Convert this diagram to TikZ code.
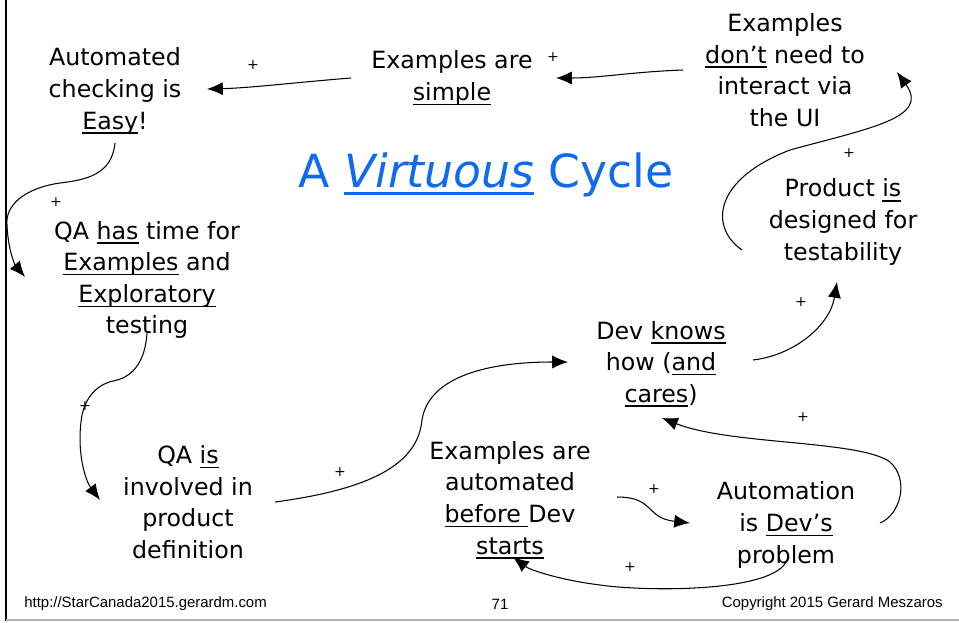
\documentclass[tikz,border=0pt]{standalone}
\usepackage{fontspec}
\setmainfont{DejaVu Sans}
\newfontfamily\footfont{Liberation Sans}
\usetikzlibrary{arrows.meta}
\definecolor{titleblue}{RGB}{16,106,240}
\newcommand{\undl}[2][0.9pt]{\setbox0=\hbox{#2}\rlap{\rule[-3\dimexpr#1\relax]{\wd0}{#1}}\box0\relax}
\tikzstyle{idea} = [align=center, 
inner sep=0pt, 
font=\fontsize{13.5}{18}\selectfont]
\tikzstyle{sign} = [inner sep=0pt, font=\fontsize{8}{8}\selectfont]
\tikzstyle{foot} = [inner sep=0pt, font=\footfont\fontsize{8.5}{10}\selectfont]
\tikzstyle{arrow} = [line width=0.6pt,-{Latex[length=9pt,width=7.5pt]},draw=black]

\begin{document}
\begin{tikzpicture}[x=0.02cm, y=-0.02cm]
        \useasboundingbox (0,0) rectangle (959,622);

        % Slide frame
        \draw [line width=1.6pt] (6,0) -- (6,621);
        \draw [line width=1.2pt, gray!60] (6,620) -- (959,620);

        % Nodes
        \node (title) [anchor=base, inner sep=0pt, text=titleblue, font=\fontsize{26}{30}\selectfont] at (486,187) {A \undl[1.5pt]{\itshape Virtuous} Cycle};
        \node (auto) [idea] at (115,91) {Automated\\checking is\\\undl{Easy}!};
        \node (simple) [idea] at (452,78) {Examples are\\\undl{simple}};
        \node (noui) [idea] at (785,70) {Examples\\\undl{don’t} need to\\interact via\\the UI};
        \node (product) [idea] at (843,222) {Product \undl{is}\\designed for\\testability};
        \node (qahas) [idea] at (147,280) {QA \undl{has} time for\\\undl{Examples} and\\\undl{Exploratory}\\testing};
        \node (dev) [idea] at (661,364) {Dev \undl{knows}\\how (\undl{and}\\\undl{cares})};
        \node (qais) [idea] at (188,502) {QA \undl{is}\\involved in\\product\\definition};
        \node (before) [idea] at (510,500) {Examples are\\automated\\\undl{before }Dev\\\undl{starts}};
        \node (autodev) [idea] at (786,525) {Automation\\is \undl{Dev’s}\\problem};

        % Signs
        \node (s1) [sign] at (253,65) {+};
        \node (s2) [sign] at (553,57) {+};
        \node (s3) [sign] at (849,153) {+};
        \node (s4) [sign] at (56,202) {+};
        \node (s5) [sign] at (85,406) {+};
        \node (s6) [sign] at (340,472) {+};
        \node (s7) [sign] at (801,302) {+};
        \node (s8) [sign] at (803,417) {+};
        \node (s9) [sign] at (654,489) {+};
        \node (s10) [sign] at (630,567) {+};

        % Footer
        \node (url) [foot, anchor=west] at (24,604) {http://StarCanada2015.gerardm.com};
        \node (page) [foot] at (500,604) {71};
        \node (copy) [foot, anchor=east] at (943,604) {Copyright 2015 Gerard Meszaros};

        % Connections
        \draw [arrow] ([shift={(-101,0)}]simple.center) .. controls (300,82) and (250,88) .. ([shift={(92,-2)}]auto.center);
        \draw [arrow] ([shift={(-102,0)}]noui.center) .. controls (630,72) and (600,78) .. ([shift={(104,0)}]simple.center);
        \draw [arrow] ([shift={(-101,28)}]product.center) .. controls (710,228) and (712,180) .. (790,150) .. controls (870,128) and (930,118) .. ([shift={(112,2)}]noui.center);
        \draw [arrow] ([shift={(0,52)}]auto.center) .. controls (112,175) and (85,180) .. (60,183) .. controls (25,188) and (5,205) .. (7,225) .. controls (8,250) and (15,265) .. ([shift={(-122,-3)}]qahas.center);
        \draw [arrow] ([shift={(0,53)}]qahas.center) .. controls (145,365) and (130,378) .. (113,381) .. controls (95,385) and (85,400) .. (82,415) .. controls (76,450) and (85,480) .. ([shift={(-88,-2)}]qais.center);
        \draw [arrow] ([shift={(87,0)}]qais.center) .. controls (380,488) and (418,460) .. (422,420) .. controls (428,380) and (480,362) .. ([shift={(-93,-2)}]dev.center);
        \draw [arrow] ([shift={(92,-4)}]dev.center) .. controls (795,355) and (830,325) .. ([shift={(-6,60)}]product.center);
        \draw [arrow] ([shift={(94,-2)}]autodev.center) .. controls (900,515) and (910,480) .. (890,462) .. controls (860,440) and (730,445) .. ([shift={(1,54)}]dev.center);
        \draw [arrow] ([shift={(107,-3)}]before.center) .. controls (655,497) and (645,518) .. ([shift={(-96,-2)}]autodev.center);
        \draw [arrow] ([shift={(1,35)}]autodev.center) .. controls (775,592) and (650,592) .. (600,585) .. controls (560,580) and (530,570) .. ([shift={(3,57)}]before.center);

    \end{tikzpicture}
\end{document}
